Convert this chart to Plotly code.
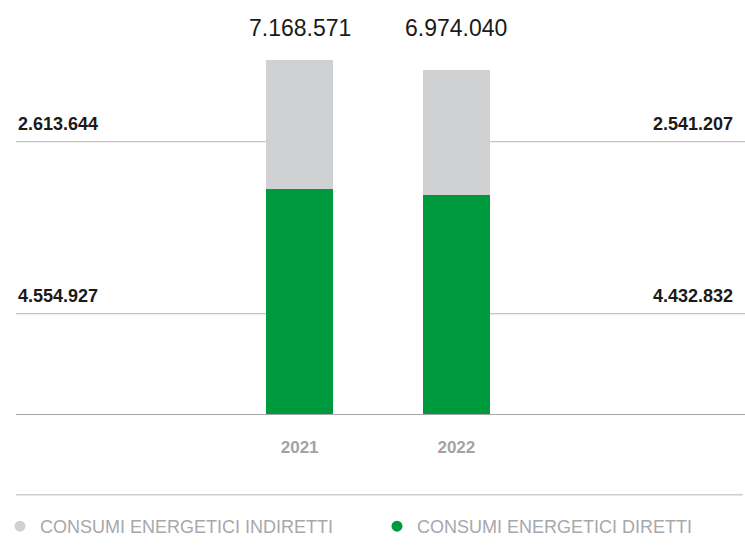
import plotly.graph_objects as go

years = ["2021", "2022"]
diretti = [4554927, 4432832]
indiretti = [2613644, 2541207]
totali = [7168571, 6974040]
label_tot = ["7.168.571", "6.974.040"]
label_ind = ["2.613.644", "2.541.207"]
label_dir = ["4.554.927", "4.432.832"]
series_names = ["CONSUMI ENERGETICI INDIRETTI", "CONSUMI ENERGETICI DIRETTI"]

GREEN = "#009a3e"
GREY = "#d0d1d3"
FONT = "Liberation Sans, Arial, sans-serif"

fig = go.Figure()
fig.add_trace(go.Bar(x=years, y=diretti, marker_color=GREEN, width=0.43,
                     showlegend=False, marker_line_width=0))
fig.add_trace(go.Bar(x=years, y=indiretti, marker_color=GREY, width=0.43,
                     showlegend=False, marker_line_width=0))
# legend entries with circle markers
fig.add_trace(go.Scatter(x=[None], y=[None], mode="markers", name=series_names[0],
                         marker=dict(color=GREY, size=11, symbol="circle"),
                         legend="legend"))
fig.add_trace(go.Scatter(x=[None], y=[None], mode="markers", name=series_names[1],
                         marker=dict(color=GREEN, size=11, symbol="circle"),
                         legend="legend2"))

ann = []
for i, lab in enumerate(label_tot):
    ann.append(dict(x=i, y=1.0917, xref="x", yref="paper", text=lab, showarrow=False,
                    yanchor="middle",
                    font=dict(family=FONT, size=23, color="#1a1a1a")))
# side labels
side = [
    (0, "left", 0.8194, label_ind[0]),
    (0, "left", 0.3333, label_dir[0]),
    (0.9864, "right", 0.8194, label_ind[1]),
    (0.9864, "right", 0.3333, label_dir[1]),
]
for x, xa, y, t in side:
    ann.append(dict(x=x, y=y, xref="paper", yref="paper", text=t, showarrow=False,
                    xanchor=xa, yanchor="middle",
                    font=dict(family=FONT, size=18, color="#1a1a1a", weight="bold")))

shapes = []
LC = "#c4c4c6"
for y in [0.7694, 0.2833]:
    shapes.append(dict(type="line", xref="paper", yref="paper", x0=0, x1=0.3429,
                       y0=y, y1=y, line=dict(color=LC, width=1.2)))
    shapes.append(dict(type="line", xref="paper", yref="paper", x0=0.6503, x1=1,
                       y0=y, y1=y, line=dict(color=LC, width=1.2)))
shapes.append(dict(type="line", xref="paper", yref="paper", x0=0, x1=0.997,
                   y0=-0.2278, y1=-0.2278, line=dict(color="#cfcfcf", width=1.5)))

legend_font = dict(family=FONT, size=18, color="#a8a8aa")
fig.update_layout(
    width=745, height=545,
    margin=dict(l=10, r=0, t=60, b=125),
    paper_bgcolor="white", plot_bgcolor="white",
    barmode="stack",
    bargap=0,
    showlegend=True,
    legend=dict(orientation="h", x=-0.0224, xanchor="left", y=-0.319, yanchor="middle",
                font=legend_font, bgcolor="rgba(0,0,0,0)"),
    legend2=dict(orientation="h", x=0.4952, xanchor="left", y=-0.319, yanchor="middle",
                 font=legend_font, bgcolor="rgba(0,0,0,0)"),
    annotations=ann,
    shapes=shapes,
    xaxis=dict(type="category", range=[-1.810, 2.842], showgrid=False, zeroline=False,
               showline=True, linecolor="#a7a7a9", linewidth=1,
               ticks="", ticklabelstandoff=18,
               tickfont=dict(family=FONT, size=17, color="#a3a3a5", weight="bold")),
    yaxis=dict(range=[0, 7168571], showgrid=False, zeroline=False, showticklabels=False,
               showline=False),
)

fig.write_html("out.html", config={"displayModeBar": False},
               post_script="document.body.style.margin='0';document.body.style.overflow='hidden';")
